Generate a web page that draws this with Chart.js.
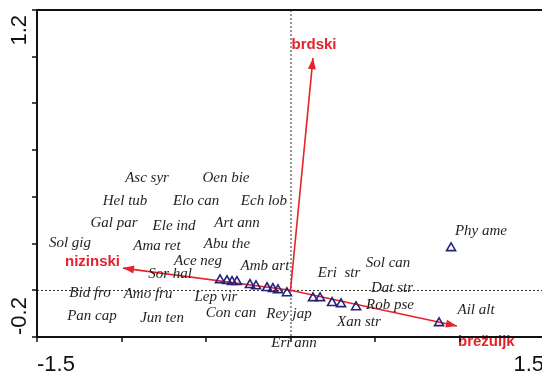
<!DOCTYPE html>
<html>
<head>
<meta charset="utf-8">
<script src="https://cdn.jsdelivr.net/npm/chart.js@4.4.1/dist/chart.umd.min.js"></script>
<style>
    html, body { margin: 0; padding: 0; background: #fff; overflow: hidden; }
    #wrap { width: 542px; height: 373px; overflow: hidden; }
</style>
</head>
<body>
<div id="wrap"><canvas id="ccaChart" width="552" height="373"></canvas></div>
<script>
// Axis ticks and the two labels shown on each axis
const xTicks = [-1.5, -1.0, -0.5, 0, 0.5, 1.0, 1.5];
const yTicks = [-0.2, 0, 0.2, 0.4, 0.6, 0.8, 1.0, 1.2];
const xTickLabels = ['-1.5', '1.5'];
const yTickLabels = ['-0.2', '1.2'];

// Species labels (axis 1 / axis 2 scores)
const speciesNames = [
    'Asc syr', 'Oen bie', 'Hel tub', 'Elo can', 'Ech lob', 'Gal par', 'Ele ind', 'Art ann',
    'Sol gig', 'Ama ret', 'Abu the', 'Ace neg', 'Amb art', 'Sor hal', 'Bid fro', 'Amo fru',
    'Lep vir', 'Pan cap', 'Jun ten', 'Con can', 'Rey jap', 'Eri ann', 'Eri  str', 'Sol can',
    'Dat str', 'Rob pse', 'Xan str', 'Phy ame', 'Ail alt'
];
const speciesX = [
    -0.849, -0.382, -0.979, -0.559, -0.157, -1.044, -0.689, -0.317,
    -1.305, -0.790, -0.376, -0.547, -0.151, -0.713, -1.186, -0.843,
    -0.441, -1.175, -0.760, -0.352, -0.009, 0.021, 0.287, 0.577,
    0.601, 0.589, 0.405, 1.127, 1.098
];
const speciesY = [
    0.481, 0.481, 0.382, 0.382, 0.382, 0.288, 0.275, 0.288,
    0.202, 0.189, 0.198, 0.126, 0.104, 0.070, -0.012, -0.016,
    -0.029, -0.110, -0.119, -0.097, -0.101, -0.225, 0.074, 0.117,
    0.010, -0.063, -0.136, 0.254, -0.083
];

// Sample scores (triangles)
const sampleX = [
    -0.417, -0.376, -0.346, -0.317, -0.240, -0.204, -0.139, -0.104, -0.074, -0.021,
    0.133, 0.175, 0.246, 0.299, 0.388, 0.879, 0.950
];
const sampleY = [
    0.044, 0.040, 0.036, 0.036, 0.023, 0.018, 0.010, 0.006, 0.001, -0.012,
    -0.033, -0.033, -0.054, -0.059, -0.072, -0.140, 0.181
];

// Environmental variables (arrow tips)
const envNames = ['brdski', 'nizinski', 'brežuljk'];
const envX = [0.133, -0.991, 0.985];
const envY = [0.994, 0.095, -0.153];

const RED = '#e5232b';
const NAVY = '#25237a';

/**
 * Frame, dotted origin lines, arrowheads and all text
 */
const ccaDecor = {
    id: 'ccaDecor',
    beforeDatasetsDraw(chart) {
        const { ctx, chartArea: a, scales: { x, y } } = chart;
        const x0 = x.getPixelForValue(0);
        const y0 = y.getPixelForValue(0);
        ctx.save();
        ctx.strokeStyle = '#333';
        ctx.lineWidth = 1;
        ctx.setLineDash([2, 2]);
        ctx.beginPath();
        ctx.moveTo(x0 + 0.5, a.top);
        ctx.lineTo(x0 + 0.5, a.bottom);
        ctx.moveTo(a.left, Math.round(y0) + 0.5);
        ctx.lineTo(a.right, Math.round(y0) + 0.5);
        ctx.stroke();
        ctx.restore();
    },
    afterDatasetsDraw(chart) {
        const { ctx, chartArea: a, scales: { x, y } } = chart;
        const x0 = x.getPixelForValue(0);
        const y0 = y.getPixelForValue(0);
        ctx.save();

        // Arrowheads and variable names
        const labelOffsets = [
            { dx: 1, dy: -13, align: 'center' },
            { dx: -3, dy: -6, align: 'right' },
            { dx: 1, dy: 16, align: 'left' }
        ];
        envNames.forEach((name, i) => {
            const tx = x.getPixelForValue(envX[i]);
            const ty = y.getPixelForValue(envY[i]);
            const ang = Math.atan2(ty - y0, tx - x0);
            const len = 11, half = 4;
            ctx.fillStyle = RED;
            ctx.beginPath();
            ctx.moveTo(tx, ty);
            ctx.lineTo(tx - len * Math.cos(ang) + half * Math.sin(ang), ty - len * Math.sin(ang) - half * Math.cos(ang));
            ctx.lineTo(tx - len * Math.cos(ang) - half * Math.sin(ang), ty - len * Math.sin(ang) + half * Math.cos(ang));
            ctx.closePath();
            ctx.fill();

            const o = labelOffsets[i];
            ctx.font = 'bold 15px "Liberation Sans", Arial, sans-serif';
            ctx.textAlign = o.align;
            ctx.textBaseline = 'middle';
            ctx.fillText(name, tx + o.dx, ty + o.dy);
        });

        // Species names
        const meta = chart.getDatasetMeta(0);
        ctx.fillStyle = '#231f20';
        ctx.font = 'italic 15px "Liberation Serif", "Times New Roman", serif';
        ctx.textAlign = 'center';
        ctx.textBaseline = 'middle';
        meta.data.forEach((pt, i) => {
            ctx.fillText(speciesNames[i], pt.x, pt.y);
        });

        // Frame
        ctx.strokeStyle = '#111';
        ctx.lineWidth = 2;
        ctx.beginPath();
        ctx.moveTo(a.right, a.top);
        ctx.lineTo(a.left, a.top);
        ctx.lineTo(a.left, a.bottom);
        ctx.lineTo(a.right, a.bottom);
        ctx.stroke();

        // Tick marks
        ctx.lineWidth = 1.5;
        ctx.beginPath();
        xTicks.forEach(v => {
            const px = Math.round(x.getPixelForValue(v));
            ctx.moveTo(px, a.bottom);
            ctx.lineTo(px, a.bottom + 5);
        });
        yTicks.forEach(v => {
            const py = Math.round(y.getPixelForValue(v));
            ctx.moveTo(a.left - 5, py);
            ctx.lineTo(a.left + 1, py);
        });
        ctx.stroke();

        // Tick labels at the axis ends
        ctx.fillStyle = '#111';
        ctx.font = '22px "Liberation Sans", Arial, sans-serif';
        ctx.textBaseline = 'top';
        ctx.textAlign = 'left';
        ctx.fillText(xTickLabels[0], x.getPixelForValue(-1.5), a.bottom + 17);
        ctx.textAlign = 'right';
        ctx.fillText(xTickLabels[1], x.getPixelForValue(1.5), a.bottom + 17);

        ctx.save();
        ctx.translate(20, y.getPixelForValue(-0.2) - 2);
        ctx.rotate(-Math.PI / 2);
        ctx.textBaseline = 'middle';
        ctx.textAlign = 'left';
        ctx.fillText(yTickLabels[0], 0, 0);
        ctx.restore();

        ctx.save();
        ctx.translate(20, y.getPixelForValue(1.2) + 5);
        ctx.rotate(-Math.PI / 2);
        ctx.textBaseline = 'middle';
        ctx.textAlign = 'right';
        ctx.fillText(yTickLabels[1], 0, 0);
        ctx.restore();

        ctx.restore();
    }
};

const arrowSets = envNames.map((name, i) => ({
    type: 'line',
    label: name,
    data: [{ x: 0, y: 0 }, { x: envX[i], y: envY[i] }],
    borderColor: RED,
    borderWidth: 1.6,
    pointRadius: 0,
    showLine: true,
    clip: false
}));

new Chart(document.getElementById('ccaChart'), {
    type: 'scatter',
    data: {
        datasets: [
            {
                label: 'species',
                data: speciesNames.map((n, i) => ({ x: speciesX[i], y: speciesY[i] })),
                pointRadius: 0,
                clip: false
            },
            {
                label: 'samples',
                data: sampleX.map((v, i) => ({ x: v, y: sampleY[i] })),
                pointStyle: 'triangle',
                pointRadius: 5.2,
                borderColor: NAVY,
                borderWidth: 1.6,
                backgroundColor: 'rgba(255,255,255,0)'
            },
            ...arrowSets
        ]
    },
    options: {
        responsive: false,
        animation: false,
        layout: { padding: { left: 37, top: 10, right: 8, bottom: 36 } },
        plugins: { legend: { display: false }, tooltip: { enabled: false } },
        scales: {
            x: { type: 'linear', min: -1.5, max: 1.5, display: false },
            y: { type: 'linear', min: -0.2, max: 1.2, display: false }
        }
    },
    plugins: [ccaDecor]
});
</script>
</body>
</html>
